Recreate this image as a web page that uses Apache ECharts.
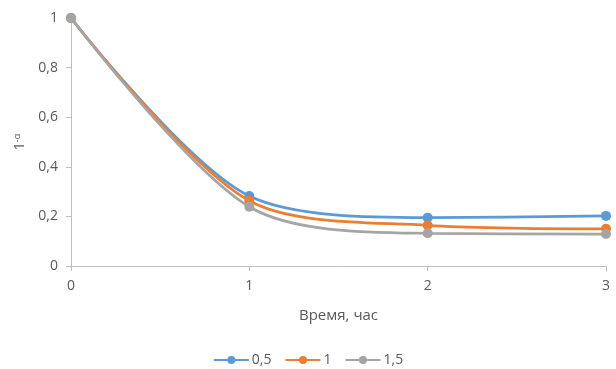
<!DOCTYPE html>
<html>
<head>
    <meta charset="utf-8">
    <title>1-α</title>
    <script src="https://cdn.jsdelivr.net/npm/echarts@6/dist/echarts.min.js"></script>
</head>
<body style="margin:0">
    <div id="main" style="width: 616px;height:369px;"></div>
    <script type="text/javascript">
        // данные
        var times = [0, 1, 2, 3];
        var s05 = [1, 0.282, 0.195, 0.202];
        var s1 = [1, 0.263, 0.164, 0.150];
        var s15 = [1, 0.239, 0.132, 0.129];
        var seriesNames = ['0,5', '1', '1,5'];
        var colors = ['#5B9BD5', '#ED7D31', '#A5A5A5'];

        function pairs(vals) {
            return vals.map(function (v, i) { return [times[i], v]; });
        }

        var myChart = echarts.init(document.getElementById('main'));
        var txt = '#595959';
        var axisCol = '#BFBFBF';
        var font = 'Open Sans';

        function line(name, vals, idx) {
            return {
                name: name,
                type: 'line',
                data: pairs(vals),
                smooth: 0.3,
                symbol: 'circle',
                symbolSize: 10,
                color: colors[idx],
                lineStyle: { width: 2.75 },
                z: 2 + idx
            };
        }

        // вторая ось только для внутренних делений (крестообразные засечки)
        var xInner = {
            type: 'value', min: 0, max: 3, interval: 1,
            axisLine: { show: false },
            axisTick: { show: true, inside: true, length: 5, lineStyle: { color: axisCol } },
            axisLabel: { show: false },
            splitLine: { show: false }
        };
        var yInner = {
            type: 'value', min: 0, max: 1, interval: 0.2,
            axisLine: { show: false },
            axisTick: { show: true, inside: true, length: 5, lineStyle: { color: axisCol } },
            axisLabel: { show: false },
            splitLine: { show: false }
        };

        myChart.setOption({
            animation: false,
            textStyle: { fontFamily: font },
            grid: { left: 71, right: 10, top: 18, bottom: 103 },
            legend: {
                top: 353,
                left: 'center',
                padding: 0,
                data: seriesNames,
                itemWidth: 35,
                itemHeight: 10,
                itemGap: 13,
                textStyle: { color: txt, fontSize: 14, fontFamily: font, padding: [0, 0, 0, -2] }
            },
            xAxis: [{
                type: 'value',
                min: 0, max: 3, interval: 1,
                name: 'Время, час',
                nameLocation: 'middle',
                nameGap: 42,
                nameTextStyle: { color: txt, fontSize: 15, fontFamily: font },
                axisLine: { lineStyle: { color: axisCol, width: 1 } },
                axisTick: { show: true, length: 5, lineStyle: { color: axisCol } },
                axisLabel: { color: txt, fontSize: 14, margin: 13 },
                splitLine: { show: false }
            }, xInner],
            yAxis: [{
                type: 'value',
                min: 0, max: 1, interval: 0.2,
                name: '{b|1}{s|-α}',
                nameLocation: 'middle',
                nameGap: 40,
                nameRotate: 90,
                nameTextStyle: {
                    rich: {
                        b: { color: txt, fontSize: 14, fontFamily: font },
                        s: { color: txt, fontSize: 9, fontFamily: font, verticalAlign: 'top', padding: [0, 0, 6, 0] }
                    }
                },
                axisLine: { show: true, lineStyle: { color: axisCol, width: 1 } },
                axisTick: { show: true, length: 5, lineStyle: { color: axisCol } },
                axisLabel: {
                    color: txt, fontSize: 14, margin: 13,
                    formatter: function (v) { return String(Math.round(v * 10) / 10).replace('.', ','); }
                },
                splitLine: { show: false }
            }, yInner],
            series: [
                line(seriesNames[0], s05, 0),
                line(seriesNames[1], s1, 1),
                line(seriesNames[2], s15, 2)
            ]
        });
    </script>
</body>
</html>
